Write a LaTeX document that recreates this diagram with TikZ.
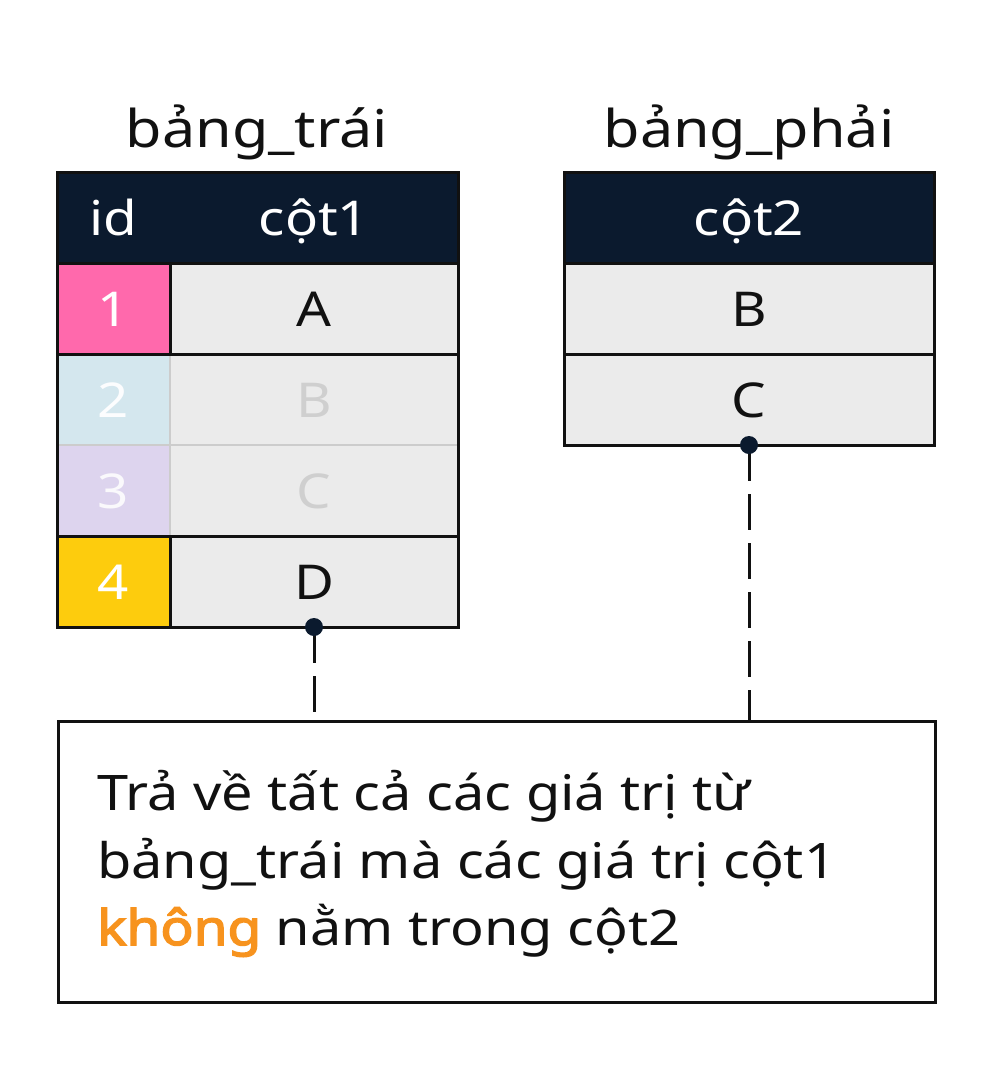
\documentclass[tikz,border=0pt]{standalone}
\usepackage{fontspec}
\setmainfont[FakeStretch=1.14]{Noto Sans}
\newfontfamily\kbold[FakeStretch=1.12,FakeBold=3]{Noto Sans}
\definecolor{navy}{HTML}{0B1A2E}
\definecolor{cellbg}{HTML}{EBEBEB}
\definecolor{pinkid}{HTML}{FF69AC}
\definecolor{blueid}{HTML}{D4E7EE}
\definecolor{lilacid}{HTML}{DDD4EE}
\definecolor{yellowid}{HTML}{FDCC0D}
\definecolor{fadetxt}{HTML}{CFCFCF}
\definecolor{fadeline}{HTML}{CCCCCC}
\definecolor{orangeK}{HTML}{F7931E}
\definecolor{ink}{HTML}{111111}
\begin{document}
\begin{tikzpicture}[x=1pt,y=-1pt,
  cellbox/.style={anchor=north west,inner sep=0pt,outer sep=0pt,text height=35pt,text depth=0pt,
    font=\fontsize{48}{48}\selectfont,text=ink},
  headbox/.style={cellbox,fill=navy,text=white},
  title/.style={anchor=base,font=\fontsize{52}{52}\selectfont,text=ink},
  desc/.style={anchor=base west,inner sep=0pt,font=\fontsize{49}{68}\selectfont,text=ink},
  frame/.style={draw=ink,line width=3pt},
  darkline/.style={draw=ink,line width=3pt},
  lightline/.style={draw=fadeline,line width=2.5pt},
  joint/.style={circle,fill=navy,inner sep=0pt,minimum size=18pt},
  link/.style={draw=ink,line width=3pt,dash pattern=on 36pt off 13pt}
]
\useasboundingbox[fill=white] (0,0) rectangle (992,1082);

% titles
\node[title] (tl) at (257,147) {bảng\_trái};
\node[title] (tr) at (749,147) {bảng\_phải};

% left table
\node[headbox,minimum width=113pt,minimum height=91pt] (hid) at (57,172) {id};
\node[headbox,minimum width=288pt,minimum height=91pt] (hc1) at (170,172) {cột1};
\node[cellbox,fill=pinkid,text=white,minimum width=113pt,minimum height=91pt] (i1) at (57,263) {1};
\node[cellbox,fill=cellbg,minimum width=288pt,minimum height=91pt] (a1) at (170,263) {A};
\node[cellbox,fill=blueid,text=white!92!blueid,minimum width=113pt,minimum height=91pt] (i2) at (57,354) {2};
\node[cellbox,fill=cellbg,text=fadetxt,minimum width=288pt,minimum height=91pt] (b2) at (170,354) {B};
\node[cellbox,fill=lilacid,text=white!85!lilacid,minimum width=113pt,minimum height=91pt] (i3) at (57,445) {3};
\node[cellbox,fill=cellbg,text=fadetxt,minimum width=288pt,minimum height=91pt] (c3) at (170,445) {C};
\node[cellbox,fill=yellowid,text=white,minimum width=113pt,minimum height=91pt] (i4) at (57,536) {4};
\node[cellbox,fill=cellbg,minimum width=288pt,minimum height=91pt] (d4) at (170,536) {D};

\draw[lightline] (i2.south west) -- (c3.north east);
\draw[lightline] (i2.north east) -- (i3.south east);
\draw[darkline] (i1.south west) -- (a1.south east);
\draw[darkline] (i4.north west) -- (d4.north east);
\draw[darkline] (i1.north west) -- (a1.north east);
\draw[darkline] (i1.north east) -- (i1.south east);
\draw[darkline] (i4.north east) -- (i4.south east);
\draw[frame] (hid.north west) rectangle (d4.south east);

% right table
\node[headbox,minimum width=370pt,minimum height=91pt] (hc2) at (564,172) {cột2};
\node[cellbox,fill=cellbg,minimum width=370pt,minimum height=91pt] (rb) at (564,263) {B};
\node[cellbox,fill=cellbg,minimum width=370pt,minimum height=91pt] (rc) at (564,354) {C};
\draw[darkline] (rb.north west) -- (rb.north east);
\draw[darkline] (rc.north west) -- (rc.north east);
\draw[frame] (hc2.north west) rectangle (rc.south east);

% description box
\node[draw=ink,line width=3pt,anchor=north west,inner sep=0pt,minimum width=877pt,minimum height=281pt] (box) at (57,720) {};
\node[desc] (l1) at (97,810) {Trả về tất cả các giá trị từ};
\node[desc] (l2) at (97,878) {bảng\_trái mà các giá trị cột1};
\node[desc] (l3) at (97,945) {{\kbold\color{orangeK}không} nằm trong cột2};

% connectors
\coordinate (pl) at (d4.south);
\coordinate (pr) at (rc.south);
\draw[link] (pl) -- (pl |- box.north);
\draw[link] (pr) -- (pr |- box.north);
\node[joint] (jl) at (pl) {};
\node[joint] (jr) at (pr) {};
\end{tikzpicture}
\end{document}
